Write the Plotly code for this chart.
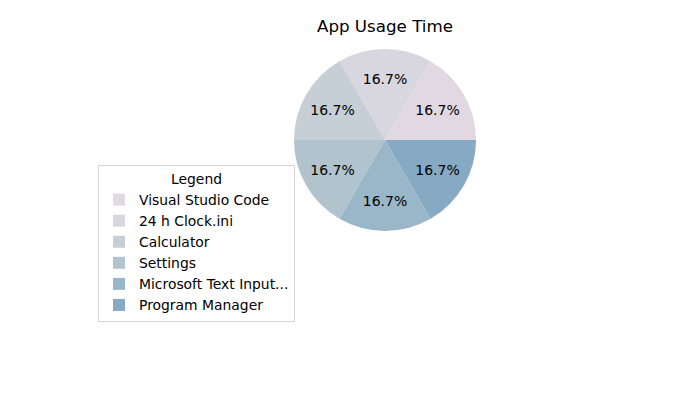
import plotly.graph_objects as go

apps = ["Visual Studio Code", "24 h Clock.ini", "Calculator", "Settings",
        "Microsoft Text Input...", "Program Manager"]
usage = [1, 1, 1, 1, 1, 1]
colors = ["#e2d8e2", "#d8d6de", "#c6ced6", "#b1c4ce", "#99b7c8", "#86a9c4"]

fig = go.Figure(go.Pie(
    labels=apps, values=usage, sort=False, direction="counterclockwise",
    rotation=30, marker=dict(colors=colors),
    texttemplate="%{percent:.1%}", textposition="inside",
    insidetextorientation="horizontal",
    textfont=dict(color="black", size=14, family="DejaVu Sans"),
    domain=dict(x=[294/700, 476/700], y=[169/400, 351/400]),
    hoverinfo="label+percent",
))

fig.update_layout(
    width=700, height=400,
    margin=dict(l=0, r=0, t=0, b=0),
    paper_bgcolor="white", plot_bgcolor="white",
    font=dict(family="DejaVu Sans", color="black"),
    title=dict(text="App Usage Time", x=385/700, xanchor="center",
               y=1-26/400, yanchor="middle", font=dict(size=16.7)),
    legend=dict(
        title=dict(text="Legend", side="top center", font=dict(size=13.9)),
        x=98/700, y=1-165/400, xanchor="left", yanchor="top",
        bordercolor="#d4d4d4", borderwidth=1, bgcolor="white",
        font=dict(size=13.9), itemsizing="constant",
    ),
)

fig.write_html("out.html", config={"displayModeBar": False},
               post_script="document.body.style.margin='0';document.body.style.padding='0';")
